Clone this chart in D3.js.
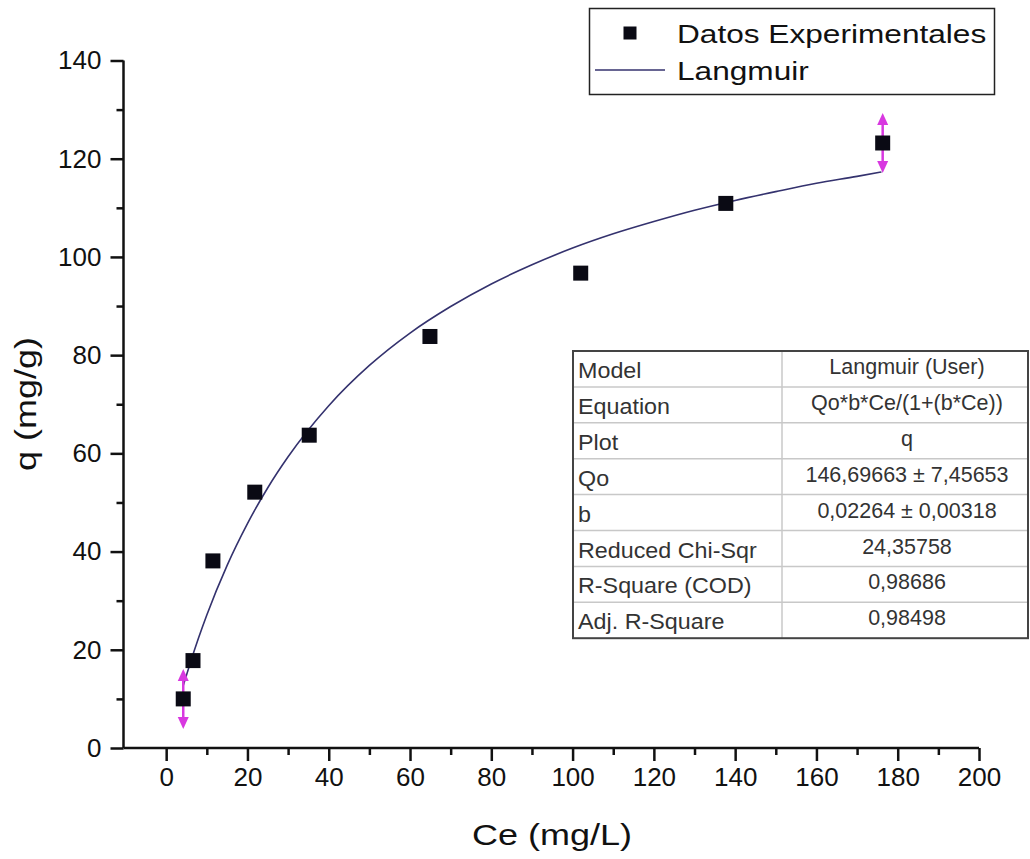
<!DOCTYPE html>
<html>
<head>
<meta charset="utf-8">
<script src="https://cdn.jsdelivr.net/npm/d3@7"></script>
<style>
  body { margin: 0; background: #fff; }
  svg { font-family: "Liberation Sans", Arial, sans-serif; }
</style>
</head>
<body>
<svg id="chart" width="1030" height="859"></svg>
<script>
// experimental points
const ceData = [4.2, 6.6, 11.5, 21.8, 35.2, 64.9, 102.0, 137.7, 176.3];
const qData = [10.0, 17.8, 38.1, 52.1, 63.7, 83.8, 96.7, 110.9, 123.2];

// Langmuir fit curve
const fitCe = [4.2, 6, 8, 10, 15, 20, 25, 30, 40, 50, 60, 70, 80, 90, 100, 110, 120, 130, 140, 150, 160, 170, 176];
const fitQ = [12.7, 17.5, 22.5, 27.1, 37.2, 45.7, 53.0, 59.3, 69.7, 77.9, 84.5, 89.9, 94.5, 98.4, 101.8, 104.7, 107.2, 109.5, 111.5, 113.3, 115.0, 116.4, 117.3];

// points flagged with magenta arrows
const flaggedIdx = [0, 8];

const xTicks = [0, 20, 40, 60, 80, 100, 120, 140, 160, 180, 200];
const yTicks = [0, 20, 40, 60, 80, 100, 120, 140];

const legendLabels = ["Datos Experimentales", "Langmuir"];

const tableLabels = ["Model", "Equation", "Plot", "Qo", "b", "Reduced Chi-Sqr", "R-Square (COD)", "Adj. R-Square"];
const tableValues = ["Langmuir (User)", "Qo*b*Ce/(1+(b*Ce))", "q", "146,69663 \u00b1 7,45653", "0,02264 \u00b1 0,00318", "24,35758", "0,98686", "0,98498"];

const svg = d3.select("#chart");

const x = d3.scaleLinear().domain([-10.5, 200]).range([123.5, 979]);
const y = d3.scaleLinear().domain([0, 140]).range([748, 60.5]);

const curveColor = "#34326e";
const magenta = "#d838e0";

// y axis
const yAxis = svg.append("g")
  .attr("transform", "translate(" + x(-10.5) + ",0)")
  .call(d3.axisLeft(y).tickValues(yTicks).tickSize(13).tickPadding(9).tickFormat(d3.format("d")));
svg.append("g")
  .attr("transform", "translate(" + x(-10.5) + ",0)")
  .call(d3.axisLeft(y).tickValues(d3.range(10, 140, 20)).tickSize(7).tickFormat(""))
  .select(".domain").remove();

// x axis
const xAxis = svg.append("g")
  .attr("transform", "translate(0," + y(0) + ")")
  .call(d3.axisBottom(x).tickValues(xTicks).tickSize(13).tickPadding(7).tickFormat(d3.format("d")));
svg.append("g")
  .attr("transform", "translate(0," + y(0) + ")")
  .call(d3.axisBottom(x).tickValues(d3.range(10, 200, 20)).tickSize(7).tickFormat(""))
  .select(".domain").remove();

svg.selectAll(".domain").attr("stroke", "#111").attr("stroke-width", 2.5);
svg.selectAll(".tick line").attr("stroke", "#111").attr("stroke-width", 2.5);
svg.selectAll(".tick text").attr("font-size", 26).attr("fill", "#111")
  .attr("font-family", "Liberation Sans, Arial, sans-serif");
// outer-only domain lines
yAxis.select(".domain").attr("d", "M0," + y(140) + "V" + y(0));
xAxis.select(".domain").attr("d", "M" + x(-10.5) + ",0H" + x(200));

// axis titles (slightly wide lettering as in the original)
svg.append("text")
  .attr("transform", "translate(552,845) scale(1.2,1)")
  .attr("text-anchor", "middle")
  .attr("font-size", 30).attr("fill", "#111")
  .text("Ce (mg/L)");
svg.append("text")
  .attr("transform", "translate(36,404) rotate(-90) scale(1.2,1)")
  .attr("text-anchor", "middle")
  .attr("font-size", 30).attr("fill", "#111")
  .text("q (mg/g)");

// fit line
const fitPts = fitCe.map((c, i) => [c, fitQ[i]]);
svg.append("path")
  .datum(fitPts)
  .attr("fill", "none")
  .attr("stroke", curveColor)
  .attr("stroke-width", 1.6)
  .attr("d", d3.line().x(d => x(d[0])).y(d => y(d[1])).curve(d3.curveMonotoneX));

// magenta arrows on flagged points
flaggedIdx.forEach(i => {
  const cx = x(ceData[i]), cy = y(qData[i]);
  const g = svg.append("g").attr("fill", magenta).attr("stroke", magenta);
  g.append("line").attr("x1", cx).attr("x2", cx).attr("y1", cy - 22).attr("y2", cy + 22).attr("stroke-width", 2.5);
  g.append("path").attr("stroke", "none")
    .attr("d", "M" + cx + "," + (cy - 30) + "L" + (cx - 5.5) + "," + (cy - 18) + "L" + (cx + 5.5) + "," + (cy - 18) + "Z");
  g.append("path").attr("stroke", "none")
    .attr("d", "M" + cx + "," + (cy + 30) + "L" + (cx - 5.5) + "," + (cy + 18) + "L" + (cx + 5.5) + "," + (cy + 18) + "Z");
});

// data squares
svg.selectAll(".pt")
  .data(ceData.map((c, i) => [c, qData[i]]))
  .enter()
  .append("rect")
  .attr("class", "pt")
  .attr("x", d => x(d[0]) - 7.5)
  .attr("y", d => y(d[1]) - 7.5)
  .attr("width", 15)
  .attr("height", 15)
  .attr("fill", "#0a0a14");

// legend
const leg = svg.append("g");
leg.append("rect")
  .attr("x", 589.5).attr("y", 8.5).attr("width", 405).attr("height", 86)
  .attr("fill", "#fff").attr("stroke", "#222").attr("stroke-width", 1.5);
leg.append("rect").attr("x", 623.5).attr("y", 26.5).attr("width", 13).attr("height", 13).attr("fill", "#0a0a14");
leg.append("line").attr("x1", 595).attr("x2", 665).attr("y1", 70).attr("y2", 70)
  .attr("stroke", curveColor).attr("stroke-width", 1.6);
leg.selectAll("text.lg")
  .data(legendLabels)
  .enter()
  .append("text")
  .attr("class", "lg")
  .attr("transform", (d, i) => "translate(677," + (43 + i * 37) + ") scale(1.24,1)")
  .attr("font-size", 25.5)
  .attr("fill", "#111")
  .text(d => d);

// parameter table
const tx0 = 573, tx1 = 782, tx2 = 1028, ty0 = 351, rowH = 35.9;
const tbl = svg.append("g");
tbl.append("rect")
  .attr("x", tx0).attr("y", ty0).attr("width", tx2 - tx0).attr("height", rowH * tableLabels.length)
  .attr("fill", "#fff");
tbl.selectAll("line.row")
  .data(d3.range(1, tableLabels.length))
  .enter()
  .append("line")
  .attr("class", "row")
  .attr("x1", tx0).attr("x2", tx2)
  .attr("y1", d => ty0 + d * rowH).attr("y2", d => ty0 + d * rowH)
  .attr("stroke", "#c8c8c8").attr("stroke-width", 1.5);
tbl.append("line")
  .attr("x1", tx1).attr("x2", tx1).attr("y1", ty0).attr("y2", ty0 + rowH * tableLabels.length)
  .attr("stroke", "#c8c8c8").attr("stroke-width", 1.5);
tbl.append("rect")
  .attr("x", tx0).attr("y", ty0).attr("width", tx2 - tx0).attr("height", rowH * tableLabels.length)
  .attr("fill", "none").attr("stroke", "#444").attr("stroke-width", 2);
tbl.selectAll("text.lab")
  .data(tableLabels)
  .enter()
  .append("text")
  .attr("class", "lab")
  .attr("transform", (d, i) => "translate(" + (tx0 + 5) + "," + (ty0 + i * rowH + 27) + ") scale(1.06,1)")
  .attr("font-size", 22)
  .attr("fill", "#333")
  .text(d => d);
tbl.selectAll("text.val")
  .data(tableValues)
  .enter()
  .append("text")
  .attr("class", "val")
  .attr("x", (tx1 + tx2) / 2 + 2)
  .attr("y", (d, i) => ty0 + i * rowH + 23)
  .attr("text-anchor", "middle")
  .attr("font-size", 21.5)
  .attr("fill", "#333")
  .text(d => d);
</script>
</body>
</html>
